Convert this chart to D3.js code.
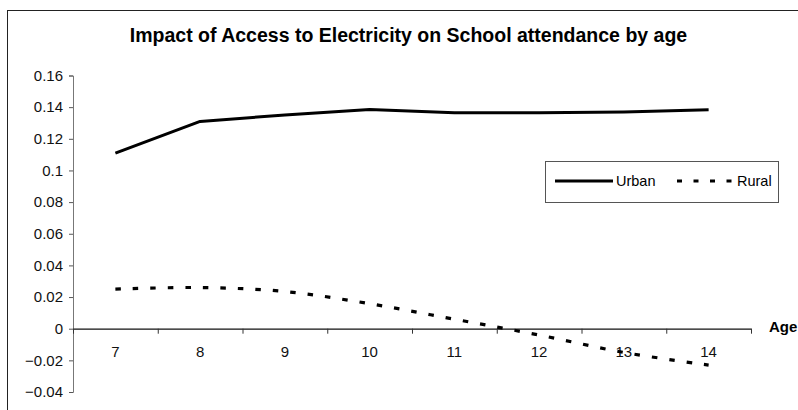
<!DOCTYPE html>
<html>
<head>
<meta charset="utf-8">
<script src="https://cdn.jsdelivr.net/npm/d3@7"></script>
<style>
  html, body { margin: 0; padding: 0; background: #fff; }
  svg { display: block; font-family: Arial, "Liberation Sans", sans-serif; }
</style>
</head>
<body>
<svg id="chart" width="798" height="410"></svg>
<script>
// ---- data ----
const ages = ["7", "8", "9", "10", "11", "12", "13", "14"];
const urban = [0.111, 0.131, 0.135, 0.1385, 0.1365, 0.1365, 0.137, 0.1383];
const rural = [0.025, 0.026, 0.0235, 0.0158, 0.006, -0.004, -0.015, -0.023];
const yTicks = [-0.04, -0.02, 0, 0.02, 0.04, 0.06, 0.08, 0.1, 0.12, 0.14, 0.16];
const titleText = "Impact of Access to Electricity on School attendance by age";
const seriesNames = ["Urban", "Rural"];
const xAxisTitle = "Age";

// ---- layout ----
const svg = d3.select("#chart");
const plotLeft = 73, plotRight = 751;

const x = d3.scaleBand().domain(ages).range([plotLeft, plotRight]);
const y = d3.scaleLinear().domain([-0.04, 0.16]).range([392, 75.5]);

// outer chart border
svg.append("rect")
  .attr("x", 7.5).attr("y", 10.5)
  .attr("width", 830).attr("height", 430)
  .attr("fill", "none").attr("stroke", "#222").attr("stroke-width", 1);

// title
svg.append("text")
  .attr("x", 408.5).attr("y", 41.5)
  .attr("text-anchor", "middle")
  .attr("font-size", 19.5).attr("font-weight", "bold")
  .text(titleText);

// y axis
const yAxis = d3.axisLeft(y)
  .tickValues(yTicks)
  .tickSize(4)
  .tickPadding(6)
  .tickFormat(d => d3.format("")(+d.toFixed(2)));
const gy = svg.append("g").attr("transform", `translate(${plotLeft},0)`).call(yAxis);
gy.select(".domain").attr("stroke", "#777").attr("stroke-width", 1);
gy.selectAll(".tick line").attr("stroke", "#555");
gy.selectAll(".tick text").attr("font-size", 15).attr("fill", "#111")
  .attr("font-family", "Arial, 'Liberation Sans', sans-serif");

// x axis at zero
const xAxis = d3.axisBottom(x).tickSize(0).tickPadding(0);
const gx = svg.append("g").attr("transform", `translate(0,${y(0)})`).call(xAxis);
gx.select(".domain").attr("stroke", "#111").attr("stroke-width", 1.2);
gx.selectAll(".tick text").attr("font-size", 15).attr("fill", "#111")
  .attr("dy", "0").attr("y", 28.5)
  .attr("font-family", "Arial, 'Liberation Sans', sans-serif");
// tick marks at category boundaries
const boundaries = ages.map(a => x(a)).concat([plotRight]);
gx.selectAll("line.bnd").data(boundaries).enter().append("line")
  .attr("class", "bnd")
  .attr("x1", d => d + 0.5).attr("x2", d => d + 0.5)
  .attr("y1", 0).attr("y2", 5)
  .attr("stroke", "#333");

// x axis title
svg.append("text")
  .attr("x", 769).attr("y", 332)
  .attr("font-size", 15).attr("font-weight", "bold")
  .text(xAxisTitle);

// lines
const cx = d => x(d) + x.bandwidth() / 2;
const urbanLine = d3.line()
  .x((d, i) => cx(ages[i]))
  .y(d => y(d));
const ruralLine = d3.line()
  .x((d, i) => cx(ages[i]))
  .y(d => y(d))
  .curve(d3.curveCatmullRom.alpha(0.5));

svg.append("path").datum(urban)
  .attr("d", urbanLine)
  .attr("fill", "none").attr("stroke", "#000").attr("stroke-width", 3)
  .attr("stroke-linejoin", "round");

svg.append("path").datum(rural)
  .attr("d", ruralLine)
  .attr("fill", "none").attr("stroke", "#000").attr("stroke-width", 3.2)
  .attr("stroke-dasharray", "5.5,12");

// legend
const lg = svg.append("g");
lg.append("rect")
  .attr("x", 545.5).attr("y", 161.5).attr("width", 233).attr("height", 41)
  .attr("fill", "#fff").attr("stroke", "#555").attr("stroke-width", 1);
lg.append("line")
  .attr("x1", 555).attr("x2", 613).attr("y1", 181).attr("y2", 181)
  .attr("stroke", "#000").attr("stroke-width", 3);
lg.append("text").attr("x", 616).attr("y", 186)
  .attr("font-size", 14.5).text(seriesNames[0]);
lg.append("line")
  .attr("x1", 677).attr("x2", 734).attr("y1", 181).attr("y2", 181)
  .attr("stroke", "#000").attr("stroke-width", 3)
  .attr("stroke-dasharray", "5,11.5");
lg.append("text").attr("x", 737).attr("y", 186)
  .attr("font-size", 14.5).text(seriesNames[1]);
</script>
</body>
</html>
